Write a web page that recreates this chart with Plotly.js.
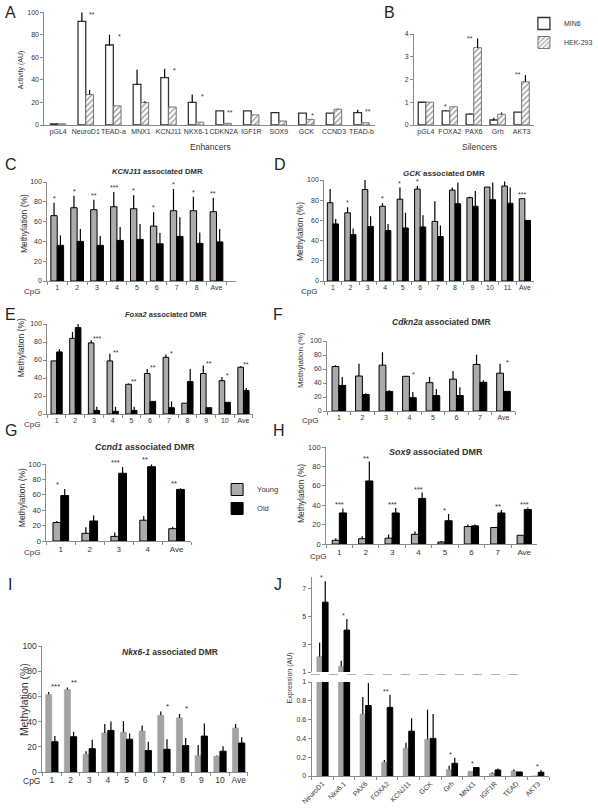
<!DOCTYPE html>
<html><head><meta charset="utf-8">
<script src="https://cdn.plot.ly/plotly-3.0.1.min.js"></script>
<style>body{margin:0;background:#fff}#chart{width:598px;height:809px}</style>
</head><body><div id="chart"></div>
<script>
// ---------- DATA ----------
const enhancers = ['pGL4','NeuroD1','TEAD-a','MNX1','KCNJ11','NKX6-1','CDKN2A','IGF1R','SOX9','GCK','CCND3','TEAD-b'];
const aMin6    = [1, 92, 71, 36, 42, 20, 12.5, 12.5, 11, 10.5, 10.5, 11];
const aMin6Err = [0, 8, 9, 13, 8, 7, 0, 0, 0.5, 0, 0, 2.5];
const aHek     = [1, 27, 17, 20, 16, 2.5, 1.5, 9, 3.5, 5, 14, 2];
const aHekErr  = [0, 4, 0, 1, 0, 0, 0, 0, 0, 0, 0.5, 0];
const aStars   = ['', '**', '*', '', '*', '*', '**', '', '', '*', '', '**'];

const silencers = ['pGL4','FOXA2','PAX6','Grh','AKT3'];
const bMin6    = [1, 0.62, 0.48, 0.22, 0.57];
const bMin6Err = [0, 0.03, 0.04, 0.1, 0];
const bHek     = [1, 0.8, 3.4, 0.47, 1.9];
const bHekErr  = [0, 0, 0.4, 0.08, 0.3];
const bStars   = ['', '*', '**', '', '**'];

const cCats     = ['1','2','3','4','5','6','7','8','Ave'];
const cYoung    = [66, 74, 72, 75, 73, 55.5, 71, 71, 70];
const cYoungErr = [13, 12, 10, 15, 13.5, 14, 22, 14, 14];
const cOld      = [36, 40, 36, 41, 42, 37.5, 45, 38, 39.5];
const cOldErr   = [10, 12.5, 9.5, 13.5, 15.5, 11, 19.5, 11, 13];
const cStars    = ['*','*','**','***','*','*','*','*','**'];

const dCats     = ['1','2','3','4','5','6','7','8','9','10','11','Ave'];
const dYoung    = [77.5, 67.5, 90.5, 74, 81, 91, 59, 90, 82.5, 93, 94, 81.5];
const dYoungErr = [13.5, 5.5, 10.5, 3, 11.5, 3, 20, 2.5, 1, 0, 4.5, 0];
const dOld      = [56.5, 46, 54, 50, 52.5, 53.5, 44, 76.5, 74, 80.5, 77, 60];
const dOldErr   = [5, 6, 10, 6.5, 15, 11.5, 11, 21, 15, 17, 15.5, 0];
const dStars    = ['', '*', '*', '*', '*', '*', '', '', '', '', '', '***'];

const eCats     = ['1','2','3','4','5','6','7','8','9','10','Ave'];
const eYoung    = [59, 84, 79, 59, 33, 45, 63, 12, 45, 37, 52];
const eYoungErr = [0, 7, 3, 8, 1, 5, 3, 0, 9, 4, 1];
const eOld      = [69, 96, 4, 3, 4, 14, 7, 36, 7, 13, 26];
const eOldErr   = [3, 4, 4, 5, 4, 0, 7, 14, 0, 0, 3];
const eStars    = ['', '', '***', '**', '**', '**', '*', '', '**', '*', '**'];

const fCats     = ['1','2','3','4','5','6','7','Ave'];
const fYoung    = [63.5, 50, 65.5, 49.5, 40.5, 45.5, 66.5, 54];
const fYoungErr = [2, 17.5, 18.5, 1, 8, 11.5, 14, 13.5];
const fOld      = [36.5, 23.5, 28, 19, 22, 22, 41, 28];
const fOldErr   = [12, 2, 1.5, 8, 9.5, 12, 3, 0];
const fStars    = ['', '', '', '*', '', '', '', '*'];

const gCats     = ['1','2','3','4','Ave'];
const gYoung    = [24, 10, 6, 27, 16];
const gYoungErr = [2, 8, 5, 5.5, 2.5];
const gOld      = [59, 26, 88, 96.5, 67];
const gOldErr   = [8.5, 7, 8, 3, 1.5];
const gStars    = ['*', '', '***', '**', '**'];

const hCats     = ['1','2','3','4','5','6','7','Ave'];
const hYoung    = [3.8, 5.5, 6, 10, 2, 18, 17, 9];
const hYoungErr = [2.2, 2.5, 3.7, 3, 1, 2, 0.5, 0];
const hOld      = [32, 65, 32, 47, 24, 18.7, 32, 35.6];
const hOldErr   = [4.7, 20, 5, 6, 7, 1.3, 3, 2];
const hStars    = ['***','**','***','***','*','','**','***'];

const iCats     = ['1','2','3','4','5','6','7','8','9','10','Ave'];
const iYoung    = [61.5, 65.5, 14, 31, 31.5, 32.5, 45, 43, 13, 12.5, 35];
const iYoungErr = [2, 1.5, 2.5, 7, 9, 4.5, 3, 3, 8.5, 0.5, 3];
const iOld      = [24, 28, 18.5, 33, 26, 17, 18, 21, 28.5, 16.5, 23];
const iOldErr   = [4.5, 4, 7, 7, 4.5, 7, 8, 6, 10, 4, 4.5];
const iStars    = ['***','**','','','','','*','*','','',''];

const jCats     = ['NeuroD1','Nkx6.1','PAX6','FOXA2','KCNJ11','GCK','Grh','MNX1','IGF1R','TEAD','AKT3'];
const jYoung    = [2.1, 1.4, 0.66, 0.146, 0.295, 0.39, 0.068, 0.05, 0.028, 0.053, 0];
const jYoungErr = [1.0, 0.4, 0.18, 0.024, 0.06, 0.315, 0.04, 0, 0.012, 0.017, 0];
const jOld      = [6.0, 4.0, 0.75, 0.73, 0.477, 0.40, 0.135, 0.09, 0.064, 0.043, 0.04];
const jOldErr   = [1.5, 0.8, 0.24, 0.135, 0.138, 0.26, 0.06, 0.006, 0.016, 0, 0.024];
const jStars    = ['*','*','','**','','','*','*','','','*'];

const methTicks = [0,20,40,60,80,100];

// ---------- BUILD ----------
const W = 598, H = 809;
const FONT = '"Liberation Sans", Arial, Helvetica, sans-serif';
const TXT = '#333';
const AX = '#8a8a8a';
const data = [];
const layout = {
  width: W, height: H, margin: {l:0, r:0, t:0, b:0, pad:0},
  paper_bgcolor: '#fff', plot_bgcolor: 'rgba(0,0,0,0)',
  barmode: 'overlay', font: {family: FONT, size: 7, color: TXT},
  showlegend: true, annotations: [], shapes: [],
  legend: {x: 543/W, y: 1 - 9/H, xanchor: 'left', yanchor: 'top', bgcolor: 'rgba(0,0,0,0)',
           font: {size: 7, color: TXT}, itemwidth: 30, tracegroupgap: 0},
  legend2: {x: 225/W, y: 1 - 475/H, xanchor: 'left', yanchor: 'top', bgcolor: 'rgba(0,0,0,0)',
           font: {size: 7.5, color: TXT}, itemwidth: 30, tracegroupgap: 0}
};
let n = 0;
const px = p => p / W, py = p => 1 - p / H;

function panel(box, cats, xr, yr, o) {
  n++;
  const s = n === 1 ? '' : String(n);
  const xref = 'x' + s, yref = 'y' + s;
  layout['xaxis' + s] = {
    domain: [px(box[0]), px(box[1])], anchor: yref, type: 'category',
    categoryorder: 'array', categoryarray: cats, range: xr,
    showline: o.xline !== false, linecolor: AX, linewidth: 1,
    ticks: o.xticks === undefined ? 'outside' : o.xticks, tickson: 'boundaries', ticklen: 3, tickcolor: AX,
    showgrid: false, zeroline: false, tickangle: o.tickangle || 0,
    tickfont: {size: o.xfont || 7, color: TXT}, showticklabels: o.xlabels !== false, fixedrange: true
  };
  layout['yaxis' + s] = {
    domain: [py(box[3]), py(box[2])], anchor: xref, range: yr,
    showline: true, linecolor: AX, linewidth: 1, ticks: 'outside', ticklen: 3, tickcolor: AX,
    showgrid: false, zeroline: false, tickvals: o.tickvals,
    tickfont: {size: o.yfont || 7, color: TXT}, fixedrange: true
  };
  return {x: xref, y: yref};
}

function bars(ax, cats, vals, errs, marker, offset, width, extra) {
  data.push(Object.assign({
    type: 'bar', x: cats, y: vals, xaxis: ax.x, yaxis: ax.y,
    offset: offset, width: width, marker: marker, showlegend: false, hoverinfo: 'skip',
    error_y: {type: 'data', symmetric: false, array: errs, arrayminus: errs.map(() => 0),
              color: '#000', thickness: 1.2, width: 0, visible: true}
  }, extra || {}));
}

function stars(ax, labels, tops, o) {
  labels.forEach((t, i) => {
    if (!t) return;
    layout.annotations.push({
      x: i, y: tops[i], xref: ax.x, yref: ax.y, text: t, showarrow: false,
      xanchor: 'center', yanchor: o.yanchor || 'bottom', xshift: o.xshift || 0, yshift: o.yshift || 0,
      font: {size: o.size || 8, color: TXT}
    });
  });
}
const tops2 = (a, ae, b, be) => a.map((v, i) => Math.max(v + ae[i], b[i] + be[i]));

function text(x, y, t, size, extra) {
  layout.annotations.push(Object.assign({
    x: px(x), y: py(y), xref: 'paper', yref: 'paper', text: t, showarrow: false,
    xanchor: 'center', yanchor: 'middle', font: {size: size, color: TXT}
  }, extra || {}));
}

const YOUNG = {color: '#ababab', line: {color: '#000', width: 1}};
const OLD = {color: '#000', line: {color: '#000', width: 1}};
const YOUNG2 = {color: '#a3a3a3', line: {color: '#999', width: 0.5}};
const MIN6 = {color: '#fff', line: {color: '#333', width: 1.3}};
const HEK = {color: '#fff', pattern: {shape: '/', fgcolor: '#9a9a9a', bgcolor: '#fff', size: 4, solidity: 0.35},
             line: {color: '#777', width: 1}};

// A
let ax = panel([46, 389, 12.3, 125], enhancers, [-0.5, 11.5], [0, 100], {xticks: '', tickvals: methTicks});
bars(ax, enhancers, aMin6, aMin6Err, MIN6, -0.28, 0.28, {name: 'MIN6', showlegend: true, legend: 'legend'});
bars(ax, enhancers, aHek, aHekErr, HEK, 0, 0.28, {name: 'HEK-293', showlegend: true, legend: 'legend'});
stars(ax, aStars, aMin6.map((v, i) => v + aMin6Err[i]), {xshift: 6, yanchor: 'middle', yshift: -2, size: 7});

// B
ax = panel([429, 553, 34, 125], silencers, [-0.5, 4.5], [0, 4], {xticks: '', tickvals: [0,1,2,3,4]});
bars(ax, silencers, bMin6, bMin6Err, MIN6, -0.32, 0.32);
bars(ax, silencers, bHek, bHekErr, HEK, 0, 0.32);
stars(ax, bStars, tops2(bMin6, bMin6Err, bHek, bHekErr), {xshift: -4, yanchor: 'middle', yshift: 0, size: 7});

// C
ax = panel([49, 245, 182, 281], cCats, [-0.5, 9.0], [0, 100], {tickvals: methTicks});
bars(ax, cCats, cYoung, cYoungErr, YOUNG, -0.32, 0.32);
bars(ax, cCats, cOld, cOldErr, OLD, 0, 0.32);
stars(ax, cStars, tops2(cYoung, cYoungErr, cOld, cOldErr), {xshift: -3, yshift: -1, size: 7});

// D
ax = panel([336, 553, 180, 281], dCats, [-0.5, 11.5], [0, 100], {tickvals: methTicks});
bars(ax, dCats, dYoung, dYoungErr, YOUNG, -0.32, 0.32);
bars(ax, dCats, dOld, dOldErr, OLD, 0, 0.32);
stars(ax, dStars, tops2(dYoung, dYoungErr, dOld, dOldErr), {xshift: -3, yshift: -1, size: 7});

// E
ax = panel([49, 262, 324, 414], eCats, [-0.5, 10.5], [0, 100], {tickvals: methTicks});
bars(ax, eCats, eYoung, eYoungErr, YOUNG, -0.3, 0.3);
bars(ax, eCats, eOld, eOldErr, OLD, 0, 0.3);
stars(ax, eStars, tops2(eYoung, eYoungErr, eOld, eOldErr), {xshift: 3, yshift: -4, size: 7});

// F
ax = panel([339, 534, 341, 411], fCats, [-0.5, 7.5], [0, 100], {tickvals: methTicks});
bars(ax, fCats, fYoung, fYoungErr, YOUNG, -0.29, 0.29);
bars(ax, fCats, fOld, fOldErr, OLD, 0, 0.29);
stars(ax, fStars, tops2(fYoung, fYoungErr, fOld, fOldErr), {xshift: 4, yshift: -4, size: 7});

// G
ax = panel([48, 198, 464, 541], gCats, [-0.5, 4.5], [0, 100], {tickvals: methTicks, xfont: 8, yfont: 7.5});
bars(ax, gCats, gYoung, gYoungErr, YOUNG, -0.27, 0.27, {name: 'Young', showlegend: true, legend: 'legend2'});
bars(ax, gCats, gOld, gOldErr, OLD, 0, 0.27, {name: 'Old', showlegend: true, legend: 'legend2'});
stars(ax, gStars, tops2(gYoung, gYoungErr, gOld, gOldErr), {xshift: -3, yshift: -2, size: 7.5});

// H
ax = panel([338, 557, 447, 544], hCats, [-0.5, 7.5], [0, 100], {tickvals: methTicks, xfont: 8, yfont: 7.5});
bars(ax, hCats, hYoung, hYoungErr, YOUNG, -0.27, 0.27);
bars(ax, hCats, hOld, hOldErr, OLD, 0, 0.27);
stars(ax, hStars, tops2(hYoung, hYoungErr, hOld, hOldErr), {xshift: 0, yshift: -3, size: 7.5});

// I
ax = panel([44, 257, 646, 772], iCats, [-0.5, 10.5], [0, 100], {tickvals: methTicks, xfont: 8.5, yfont: 8.5});
bars(ax, iCats, iYoung, iYoungErr, YOUNG2, -0.33, 0.33);
bars(ax, iCats, iOld, iOldErr, OLD, 0, 0.33);
stars(ax, iStars, tops2(iYoung, iYoungErr, iOld, iOldErr), {xshift: 4, yshift: -1, size: 8});

// J upper (broken axis)
const jTops = tops2(jYoung, jYoungErr, jOld, jOldErr);
ax = panel([323, 569, 577, 672], jCats, [-0.5, 10.5], [1, 7.8], {tickvals: [1,3,5,7], xline: false, xticks: '', xlabels: false});
bars(ax, jCats, jYoung, jYoungErr, YOUNG2, -0.26, 0.26);
bars(ax, jCats, jOld, jOldErr, OLD, 0, 0.26);
stars(ax, jStars.map((s, i) => jTops[i] > 1 ? s : ''), jTops, {xshift: -1, yshift: -2, size: 7});
// J lower
ax = panel([323, 569, 682, 776], jCats, [-0.5, 10.5], [0, 1], {tickvals: [0,0.2,0.4,0.6,0.8,1], tickangle: -45});
bars(ax, jCats, jYoung, jYoungErr, YOUNG2, -0.26, 0.26);
bars(ax, jCats, jOld, jOldErr, OLD, 0, 0.26);
stars(ax, jStars.map((s, i) => jTops[i] <= 1 ? s : ''), jTops, {xshift: -1, yshift: -2, size: 7});
layout.shapes.push({type: 'line', xref: 'paper', yref: 'paper', x0: px(322), x1: px(541), y0: py(674.5), y1: py(674.5),
                    line: {color: '#b0b0b0', width: 1, dash: 'dash'}});

// ---------- TEXT ----------
[['A',11,13],['B',404,13],['C',11,164],['D',290,164],['E',11,314],['F',288,314],
 ['G',11,430],['H',289,430],['I',10,584],['J',288,584]].forEach(l => text(l[1], l[2], l[0], 16, {font: {size: 16, color: '#222'}}));

text(218, 147, 'Enhancers', 8.5);
text(497, 147, 'Silencers', 8.5);
text(22, 70, 'Activity (AU)', 7, {textangle: -90});

text(163, 171, '<b><i>KCNJ11</i> associated DMR</b>', 7.7);
text(460, 173, '<b><i>GCK</i> associated DMR</b>', 8);
text(172, 314, '<b><i>Foxa2</i> associated DMR</b>', 7.5);
text(458, 322, '<b><i>Cdkn2a</i> associated DMR</b>', 8.5);
text(150, 447, '<b><i>Ccnd1</i> associated DMR</b>', 9);
text(452, 452, '<b><i>Sox9</i> associated DMR</b>', 9);
text(176, 652, '<b><i>Nkx6-1</i> associated DMR</b>', 8.5);

text(25, 224, 'Methylation (%)', 8.5, {textangle: -90});
text(311, 232, 'Methylation (%)', 8.5, {textangle: -90});
text(22, 348, 'Methylation (%)', 8.5, {textangle: -90});
text(311, 360, 'Methylation (%)', 8, {textangle: -90});
text(23, 498, 'Methylation (%)', 8.5, {textangle: -90});
text(312, 494, 'Methylation (%)', 8.5, {textangle: -90});
text(25, 700, 'Methylation (%)', 10.5, {textangle: -90});
text(301, 678, 'Expression (AU)', 7, {textangle: -90});

text(33, 291, 'CpG', 8);
text(320, 291, 'CpG', 8);
text(33, 424, 'CpG', 8);
text(321, 420, 'CpG', 8);
text(33, 552, 'CpG', 8);
text(330, 556, 'CpG', 8);
text(33, 781, 'CpG', 8.5);

Plotly.newPlot('chart', data, layout, {staticPlot: true, displayModeBar: false});
</script>
</body></html>
